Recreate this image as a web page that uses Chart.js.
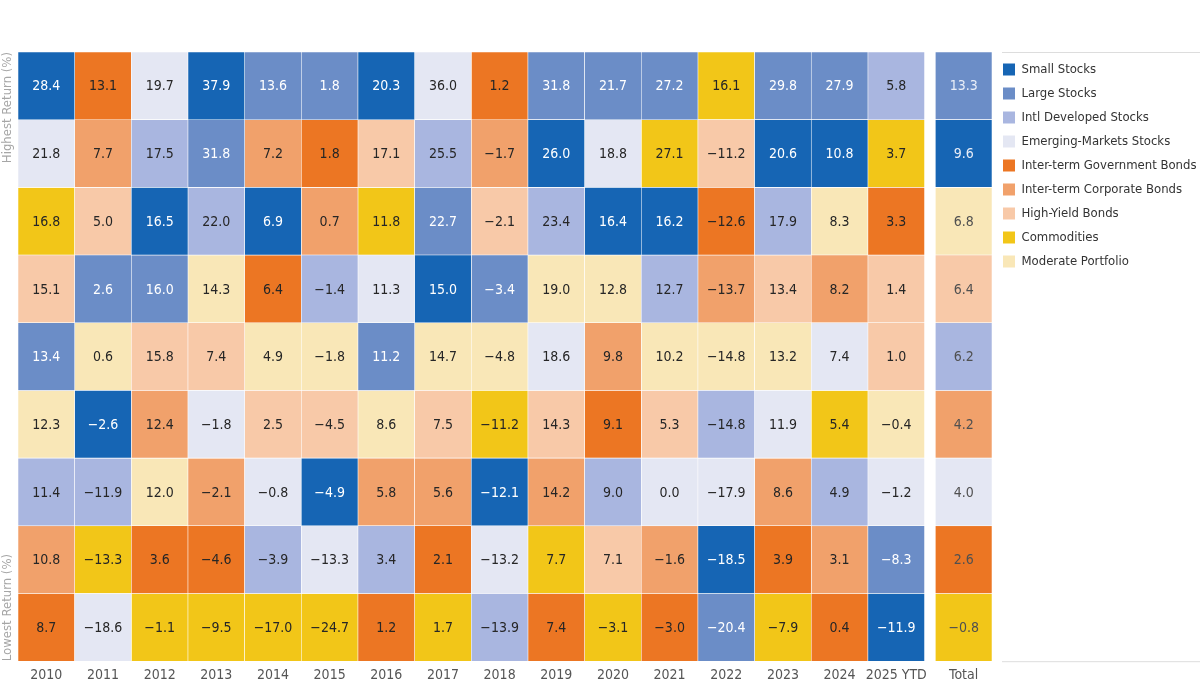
<!DOCTYPE html>
<html>
<head>
<meta charset="utf-8">
<title>Asset class returns by year</title>
<script src="https://cdn.jsdelivr.net/npm/chart.js@4.4.1/dist/chart.umd.min.js"></script>
<style>
  html, body { margin: 0; padding: 0; background: #fff; }
  #wrap { width: 1200px; height: 693px; position: relative; }
</style>
</head>
<body>
<div id="wrap"><canvas id="returnsChart"></canvas></div>
<script>
// Asset classes, in legend order
const assetNames = [
    'Small Stocks', 'Large Stocks', 'Intl Developed Stocks', 'Emerging-Markets Stocks',
    'Inter-term Government Bonds', 'Inter-term Corporate Bonds', 'High-Yield Bonds',
    'Commodities', 'Moderate Portfolio'
];
const S = 0, L = 1, I = 2, E = 3, G = 4, C = 5, H = 6, M = 7, P = 8;

const columnLabels = ['2010', '2011', '2012', '2013', '2014', '2015', '2016', '2017', '2018',
    '2019', '2020', '2021', '2022', '2023', '2024', '2025 YTD', 'Total'];

// Returns per column, highest to lowest (%)
const returnsByColumn = [
    [28.4, 21.8, 16.8, 15.1, 13.4, 12.3, 11.4, 10.8, 8.7],
    [13.1, 7.7, 5.0, 2.6, 0.6, -2.6, -11.9, -13.3, -18.6],
    [19.7, 17.5, 16.5, 16.0, 15.8, 12.4, 12.0, 3.6, -1.1],
    [37.9, 31.8, 22.0, 14.3, 7.4, -1.8, -2.1, -4.6, -9.5],
    [13.6, 7.2, 6.9, 6.4, 4.9, 2.5, -0.8, -3.9, -17.0],
    [1.8, 1.8, 0.7, -1.4, -1.8, -4.5, -4.9, -13.3, -24.7],
    [20.3, 17.1, 11.8, 11.3, 11.2, 8.6, 5.8, 3.4, 1.2],
    [36.0, 25.5, 22.7, 15.0, 14.7, 7.5, 5.6, 2.1, 1.7],
    [1.2, -1.7, -2.1, -3.4, -4.8, -11.2, -12.1, -13.2, -13.9],
    [31.8, 26.0, 23.4, 19.0, 18.6, 14.3, 14.2, 7.7, 7.4],
    [21.7, 18.8, 16.4, 12.8, 9.8, 9.1, 9.0, 7.1, -3.1],
    [27.2, 27.1, 16.2, 12.7, 10.2, 5.3, 0.0, -1.6, -3.0],
    [16.1, -11.2, -12.6, -13.7, -14.8, -14.8, -17.9, -18.5, -20.4],
    [29.8, 20.6, 17.9, 13.4, 13.2, 11.9, 8.6, 3.9, -7.9],
    [27.9, 10.8, 8.3, 8.2, 7.4, 5.4, 4.9, 3.1, 0.4],
    [5.8, 3.7, 3.3, 1.4, 1.0, -0.4, -1.2, -8.3, -11.9],
    [13.3, 9.6, 6.8, 6.4, 6.2, 4.2, 4.0, 2.6, -0.8]
];

// Asset class of each cell, same order as returnsByColumn
const assetsByColumn = [
    [S, E, M, H, L, P, I, C, G],
    [G, C, H, L, P, S, I, M, E],
    [E, I, S, L, H, C, P, G, M],
    [S, L, I, P, H, E, C, G, M],
    [L, C, S, G, P, H, E, I, M],
    [L, G, C, I, P, H, S, E, M],
    [S, H, M, E, L, P, C, I, G],
    [E, I, L, S, P, H, C, G, M],
    [G, C, H, L, P, M, S, E, I],
    [L, S, I, P, E, H, C, M, G],
    [L, E, S, P, C, G, I, H, M],
    [L, M, S, I, P, H, E, C, G],
    [M, H, G, C, P, I, E, S, L],
    [L, S, I, H, P, E, C, G, M],
    [L, S, P, C, E, M, I, C, G],
    [I, M, G, H, H, P, E, L, S],
    [L, S, P, H, I, C, E, G, M]
];

const assetColors = ['#1665b4', '#6b8dc7', '#a9b6e0', '#e4e7f3', '#ec7623',
    '#f1a16b', '#f8c9a8', '#f2c618', '#f9e7b7'];
const lightText = [S, L];

const FONT = "'Liberation Sans Narrow', 'DejaVu Sans Condensed', 'Noto Sans', sans-serif";
const TOTAL_GAP = 0.19;   // extra space before the Total column, in column units
const rowCount = returnsByColumn[0].length;
const totalIndex = columnLabels.length - 1;

function columnX(i) {
    return i === totalIndex ? i + TOTAL_GAP : i;
}

function formatReturn(v) {
    return v < 0 ? '\u2212' + Math.abs(v).toFixed(1) : v.toFixed(1);
}

// One dataset per asset class; each cell is a floating bar spanning its rank row
const datasets = assetNames.map((name, a) => {
    const data = [];
    assetsByColumn.forEach((col, i) => {
        col.forEach((asset, r) => {
            if (asset === a) {
                data.push({ x: columnX(i), y: [r, r + 1], v: returnsByColumn[i][r], col: i });
            }
        });
    });
    return {
        label: name,
        data: data,
        backgroundColor: assetColors[a],
        borderColor: '#ffffff',
        borderWidth: 0.6,
        borderSkipped: false,
        barPercentage: 1,
        categoryPercentage: 1
    };
});

const cellLabels = {
    id: 'cellLabels',
    afterDatasetsDraw(chart) {
        const ctx = chart.ctx;
        ctx.save();
        ctx.font = '14px ' + FONT;
        ctx.textAlign = 'center';
        ctx.textBaseline = 'middle';
        chart.data.datasets.forEach((ds, a) => {
            const meta = chart.getDatasetMeta(a);
            meta.data.forEach((el, j) => {
                const item = ds.data[j];
                const c = el.getCenterPoint();
                const isTotal = item.col === totalIndex;
                if (lightText.includes(a)) {
                    ctx.fillStyle = isTotal ? '#e9eef8' : '#ffffff';
                } else {
                    ctx.fillStyle = isTotal ? '#505050' : '#262626';
                }
                ctx.fillText(formatReturn(item.v), c.x, c.y + 1);
            });
        });
        ctx.restore();
    }
};

const sideTitles = {
    id: 'sideTitles',
    afterDraw(chart) {
        const { ctx, chartArea, legend } = chart;
        ctx.save();
        // rotated rank titles on the left
        ctx.font = '13px ' + FONT;
        ctx.fillStyle = '#a6a6a6';
        ctx.textBaseline = 'middle';
        ctx.translate(chartArea.left - 10, 0);
        ctx.rotate(-Math.PI / 2);
        ctx.textAlign = 'right';
        ctx.fillText('Highest Return (%)', -chartArea.top, 0);
        ctx.textAlign = 'left';
        ctx.fillText('Lowest Return (%)', -chartArea.bottom, 0);
        ctx.restore();

        // rules above and below the legend
        ctx.save();
        ctx.strokeStyle = '#dddddd';
        ctx.lineWidth = 1;
        const x0 = legend.left + 10;
        ctx.beginPath();
        ctx.moveTo(x0, chartArea.top + 0.5);
        ctx.lineTo(chart.width, chartArea.top + 0.5);
        ctx.moveTo(x0, chartArea.bottom + 0.5);
        ctx.lineTo(chart.width, chartArea.bottom + 0.5);
        ctx.stroke();
        ctx.restore();
    }
};

Chart.defaults.font.family = FONT;

new Chart(document.getElementById('returnsChart'), {
    type: 'bar',
    data: { datasets: datasets },
    options: {
        responsive: true,
        maintainAspectRatio: false,
        animation: false,
        layout: { padding: { top: 52, left: 18, right: 0, bottom: 3 } },
        scales: {
            x: {
                type: 'linear',
                stacked: true,
                offset: false,
                min: -0.5,
                max: totalIndex + TOTAL_GAP + 0.5,
                afterBuildTicks: scale => {
                    scale.ticks = columnLabels.map((_, i) => ({ value: columnX(i) }));
                },
                ticks: {
                    autoSkip: false,
                    maxRotation: 0,
                    padding: 6,
                    color: '#555555',
                    font: { size: 14 },
                    callback: (value, index) => columnLabels[index]
                },
                grid: { display: false, drawTicks: false },
                border: { display: false }
            },
            y: {
                type: 'linear',
                min: 0,
                max: rowCount,
                reverse: true,
                display: false
            }
        },
        plugins: {
            legend: {
                position: 'right',
                align: 'start',
                maxWidth: 208,
                labels: {
                    boxWidth: 12,
                    boxHeight: 12,
                    padding: 11,
                    color: '#333333',
                    font: { size: 13 },
                    generateLabels: chart => chart.data.datasets.map((ds, i) => ({
                        text: ds.label,
                        fillStyle: ds.backgroundColor,
                        strokeStyle: ds.backgroundColor,
                        lineWidth: 0,
                        hidden: false,
                        datasetIndex: i,
                        fontColor: '#333333'
                    }))
                }
            },
            tooltip: {
                callbacks: {
                    title: items => columnLabels[items[0].raw.col],
                    label: item => item.dataset.label + ': ' + formatReturn(item.raw.v) + '%'
                }
            }
        }
    },
    plugins: [cellLabels, sideTitles]
});
</script>
</body>
</html>
